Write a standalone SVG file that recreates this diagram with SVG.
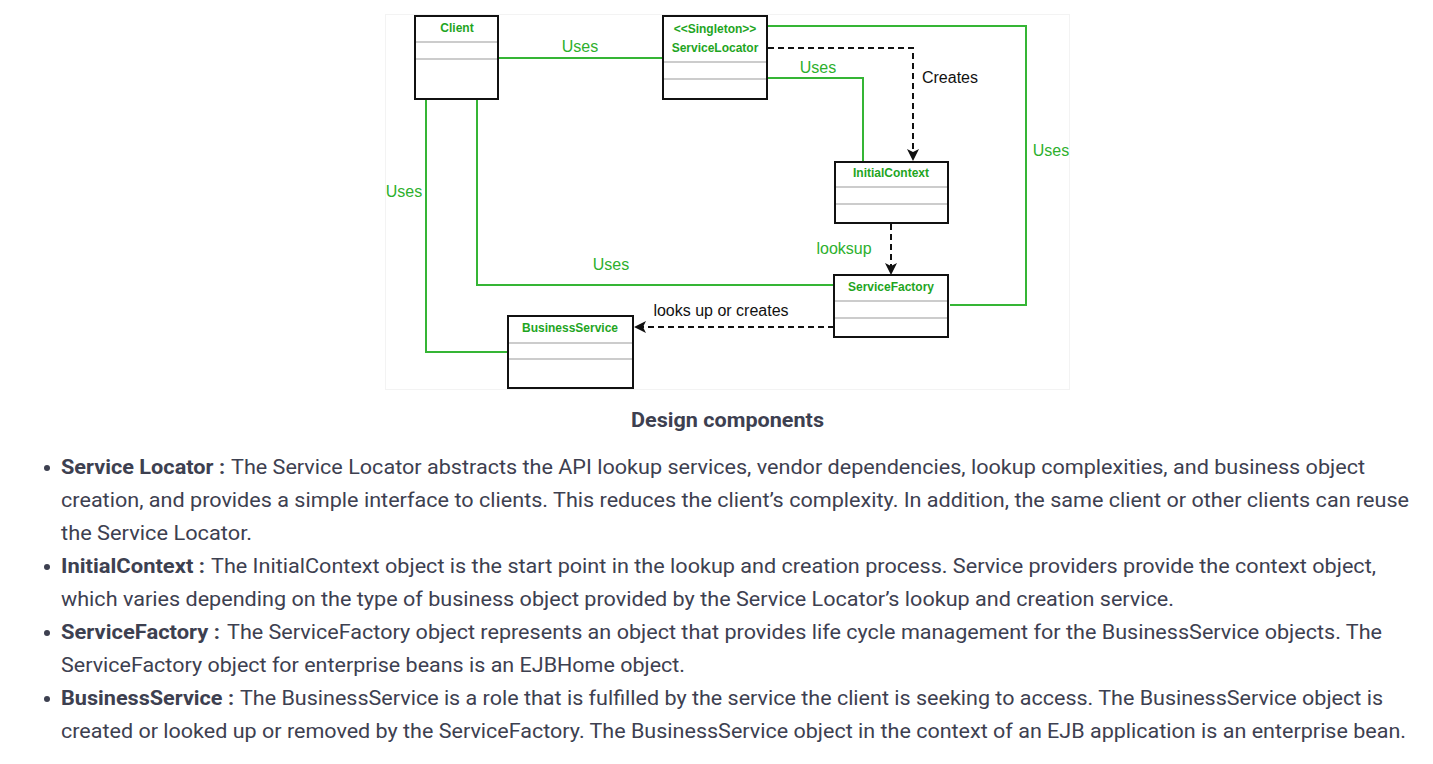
<svg xmlns="http://www.w3.org/2000/svg" width="1433" height="764" viewBox="0 0 1433 764">
<style>
.box{fill:#fff;stroke:#111;stroke-width:2}
.sep{stroke:#999;stroke-width:1}
.ttl{font-family:"Liberation Sans",Arial,sans-serif;font-weight:bold;font-size:12px;fill:#1fa51f;text-anchor:middle}
.g{fill:none;stroke:#35b535;stroke-width:2}
.d{fill:none;stroke:#111;stroke-width:2;stroke-dasharray:6 4}
.lg{font-family:"Liberation Sans",Arial,sans-serif;font-size:16px;fill:#2db02d}
.lb{font-family:"Liberation Sans",Arial,sans-serif;font-size:16px;fill:#111}
.cap{font-family:Roboto,"Liberation Sans",sans-serif;font-weight:bold;font-size:20px;fill:#3d4050}
.t{font-family:Roboto,"Liberation Sans",sans-serif;font-size:19.5px;fill:#3d4050}
.tb{font-family:Roboto,"Liberation Sans",sans-serif;font-size:19.5px;fill:#3d4050;font-weight:bold}
</style>
<defs>
<marker id="ah" viewBox="0 0 12 12" refX="11" refY="6" markerWidth="12" markerHeight="12" markerUnits="userSpaceOnUse" orient="auto">
<path d="M0,0 L12,6 L0,12 L3,6 Z" fill="#111"/>
</marker>
</defs>
<rect x="0" y="0" width="1433" height="764" fill="#fff"/>
<rect x="385.5" y="14.5" width="684" height="375" fill="#fff" stroke="#f3f3f3"/>

<g id="connectors">
<path class="g" d="M499,58 H663"/>
<path class="g" d="M768,26 H1026 V305 H950"/>
<path class="g" d="M768,78 H863 V162"/>
<path class="g" d="M477,99 V285 H834"/>
<path class="g" d="M426,99 V352 H508"/>
<path class="d" d="M768,48 H913 V160" marker-end="url(#ah)"/>
<path class="d" d="M891,224 V274" marker-end="url(#ah)"/>
<path class="d" d="M834,327 H635" marker-end="url(#ah)"/>
<text class="lg" x="580" y="52" text-anchor="middle">Uses</text>
<text class="lg" x="818" y="73" text-anchor="middle">Uses</text>
<text class="lg" x="1051" y="156" text-anchor="middle">Uses</text>
<text class="lg" x="404" y="197" text-anchor="middle">Uses</text>
<text class="lg" x="611" y="270" text-anchor="middle">Uses</text>
<text class="lg" x="844" y="254" text-anchor="middle">looksup</text>
<text class="lb" x="950" y="83" text-anchor="middle">Creates</text>
<text class="lb" x="721" y="316" text-anchor="middle">looks up or creates</text>
</g>

<g id="client">
<rect class="box" x="415" y="16" width="83" height="83"/>
<line class="sep" x1="416" y1="42" x2="497" y2="42"/>
<line class="sep" x1="416" y1="59" x2="497" y2="59"/>
<text class="ttl" x="457" y="32">Client</text>
</g>

<g id="servicelocator">
<rect class="box" x="663" y="16" width="104" height="83"/>
<line class="sep" x1="664" y1="62" x2="766" y2="62"/>
<line class="sep" x1="664" y1="79" x2="766" y2="79"/>
<text class="ttl" x="715" y="33">&lt;&lt;Singleton&gt;&gt;</text>
<text class="ttl" x="715" y="52">ServiceLocator</text>
</g>

<g id="initialcontext">
<rect class="box" x="835" y="162" width="113" height="61"/>
<line class="sep" x1="836" y1="187" x2="947" y2="187"/>
<line class="sep" x1="836" y1="204" x2="947" y2="204"/>
<text class="ttl" x="891" y="177">InitialContext</text>
</g>

<g id="servicefactory">
<rect class="box" x="834" y="275" width="114" height="62"/>
<line class="sep" x1="835" y1="301" x2="947" y2="301"/>
<line class="sep" x1="835" y1="318" x2="947" y2="318"/>
<text class="ttl" x="891" y="291">ServiceFactory</text>
</g>

<g id="businessservice">
<rect class="box" x="508" y="316" width="125" height="72"/>
<line class="sep" x1="509" y1="343" x2="632" y2="343"/>
<line class="sep" x1="509" y1="359" x2="632" y2="359"/>
<text class="ttl" x="570" y="332">BusinessService</text>
</g>

<g id="caption">
<text class="cap" x="631" y="427" textLength="193" lengthAdjust="spacingAndGlyphs">Design components</text>
</g>

<g id="bullets">
<circle cx="47" cy="468" r="3" fill="#3d4050"/>
<circle cx="47" cy="567" r="3" fill="#3d4050"/>
<circle cx="47" cy="633" r="3" fill="#3d4050"/>
<circle cx="47" cy="699" r="3" fill="#3d4050"/>
<text class="tb" x="61" y="474" textLength="164" lengthAdjust="spacingAndGlyphs">Service Locator :</text>
<text class="t" x="231" y="474" textLength="1134" lengthAdjust="spacingAndGlyphs">The Service Locator abstracts the API lookup services, vendor dependencies, lookup complexities, and business object</text>
<text class="t" x="61" y="507" textLength="1348" lengthAdjust="spacingAndGlyphs">creation, and provides a simple interface to clients. This reduces the client’s complexity. In addition, the same client or other clients can reuse</text>
<text class="t" x="61" y="540" textLength="191" lengthAdjust="spacingAndGlyphs">the Service Locator.</text>
<text class="tb" x="61" y="573" textLength="144" lengthAdjust="spacingAndGlyphs">InitialContext :</text>
<text class="t" x="211" y="573" textLength="1165" lengthAdjust="spacingAndGlyphs">The InitialContext object is the start point in the lookup and creation process. Service providers provide the context object,</text>
<text class="t" x="61" y="606" textLength="1113" lengthAdjust="spacingAndGlyphs">which varies depending on the type of business object provided by the Service Locator’s lookup and creation service.</text>
<text class="tb" x="61" y="639" textLength="159" lengthAdjust="spacingAndGlyphs">ServiceFactory :</text>
<text class="t" x="227" y="639" textLength="1155" lengthAdjust="spacingAndGlyphs">The ServiceFactory object represents an object that provides life cycle management for the BusinessService objects. The</text>
<text class="t" x="61" y="672" textLength="624" lengthAdjust="spacingAndGlyphs">ServiceFactory object for enterprise beans is an EJBHome object.</text>
<text class="tb" x="61" y="705" textLength="173" lengthAdjust="spacingAndGlyphs">BusinessService :</text>
<text class="t" x="240" y="705" textLength="1143" lengthAdjust="spacingAndGlyphs">The BusinessService is a role that is fulfilled by the service the client is seeking to access. The BusinessService object is</text>
<text class="t" x="61" y="738" textLength="1345" lengthAdjust="spacingAndGlyphs">created or looked up or removed by the ServiceFactory. The BusinessService object in the context of an EJB application is an enterprise bean.</text>
</g>
</svg>
